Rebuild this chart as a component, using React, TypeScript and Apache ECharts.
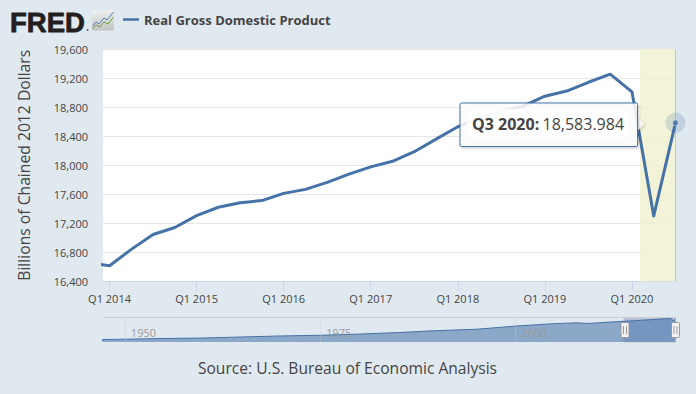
import React, { useEffect, useRef } from "react";
import * as echarts from "echarts";

const seriesName = "Real Gross Domestic Product";
const yAxisTitle = "Billions of Chained 2012 Dollars";
const sourceText = "Source: U.S. Bureau of Economic Analysis";

// quarter index: 0 = Q1 2014
const quarters = [-1, 0, 1, 2, 3, 4, 5, 6, 7, 8, 9, 10, 11, 12, 13, 14, 15, 16, 17, 18, 19, 20, 21, 22, 23, 24, 25, 26];
const gdp = [16663, 16617, 16842, 17047, 17143, 17306, 17422, 17485, 17514, 17613, 17668, 17765, 17877, 17978, 18054, 18186, 18360, 18530, 18654, 18752, 18813, 18950, 19021, 19142, 19254, 19011, 17303, 18583.984];
const xTickValues = [0, 4, 8, 12, 16, 20, 24];
const xTickLabels = ["Q1 2014", "Q1 2015", "Q1 2016", "Q1 2017", "Q1 2018", "Q1 2019", "Q1 2020"];
const recession = [24.37, 26];

const navYears = [1947, 1950, 1955, 1960, 1965, 1970, 1975, 1980, 1985, 1990, 1995, 2000, 2005, 2007.9, 2009.4, 2012, 2015, 2019.9, 2020.25, 2020.5];
const navValues = [2030, 2290, 2880, 3260, 4130, 4950, 5490, 6450, 7700, 9300, 10400, 13000, 15000, 15650, 15150, 16250, 17300, 19254, 17303, 18584];
const navTicks = [1950, 1975, 2000];
const navSelection = [2013.9, 2020.5];

const tooltipLabel = "Q3 2020:";
const tooltipValue = "18,583.984";

const FONT = "'Open Sans'";
const BLUE = "#4572a7";
const TEXT = "#444444";

export default function App() {
  const ref = useRef<HTMLDivElement>(null);
  useEffect(() => {
    document.body.style.margin = "0";
    const chart = echarts.init(ref.current!, null, { renderer: "svg" });
    const points = quarters.map((q, i) => [q, gdp[i]]);
    const last = points[points.length - 1];
    chart.setOption({
      animation: false,
      backgroundColor: "#e1e9f0",
      textStyle: { fontFamily: FONT },
      legend: {
        data: [{ name: seriesName, icon: "rect" }],
        left: 123,
        top: 13,
        padding: 0,
        itemWidth: 16,
        itemHeight: 2.5,
        itemGap: 5,
        selectedMode: false,
        textStyle: { fontFamily: FONT, fontSize: 13, fontWeight: "bold", color: TEXT },
      },
      grid: [
        { left: 103, width: 572.5, top: 49, height: 232.5, backgroundColor: "#ffffff", show: true, borderWidth: 0 },
        { left: 103, width: 572.5, top: 318, height: 24, show: false },
      ],
      xAxis: [
        {
          type: "value",
          gridIndex: 0,
          min: -0.3,
          max: 26,
          splitLine: { show: false },
          axisLine: { show: true, onZero: false, lineStyle: { color: "#ccd6eb" } },
          axisTick: { show: true, length: 9, customValues: xTickValues, lineStyle: { color: "#ccd6eb" } },
          axisLabel: {
            customValues: xTickValues,
            margin: 11,
            fontSize: 11,
            color: TEXT,
            fontFamily: FONT,
            formatter: (v: number) => xTickLabels[xTickValues.indexOf(v)] ?? "",
          },
        },
        {
          type: "value",
          gridIndex: 1,
          min: 1947.2,
          max: 2020.5,
          z: 6,
          splitLine: { show: false },
          axisLine: { show: false },
          axisTick: { show: true, inside: true, length: 24, customValues: navTicks, lineStyle: { color: "rgba(200,205,212,0.35)" } },
          axisLabel: {
            customValues: navTicks,
            inside: true,
            margin: 4,
            fontSize: 11,
            color: "#999999",
            align: "left",
            padding: [0, 0, 0, 6],
            fontFamily: FONT,
            formatter: (v: number) => String(v),
          },
        },
      ],
      yAxis: [
        {
          type: "value",
          gridIndex: 0,
          min: 16400,
          max: 19600,
          interval: 400,
          name: yAxisTitle,
          nameLocation: "middle",
          nameGap: 71,
          nameTextStyle: { fontSize: 15.7, color: TEXT, fontFamily: FONT },
          axisLine: { show: false },
          axisTick: { show: false },
          splitLine: { lineStyle: { color: "#e6e6e6", width: 1 } },
          axisLabel: {
            margin: 15,
            fontSize: 11,
            color: TEXT,
            fontFamily: FONT,
            formatter: (v: number) => v.toLocaleString("en-US"),
          },
        },
        {
          type: "value",
          gridIndex: 1,
          min: 0,
          max: 19600,
          axisLine: { show: false },
          axisTick: { show: false },
          axisLabel: { show: false },
          splitLine: { show: false },
        },
      ],
      series: [
        {
          name: seriesName,
          type: "line",
          xAxisIndex: 0,
          yAxisIndex: 0,
          data: points,
          symbol: "none",
          itemStyle: { color: BLUE },
          lineStyle: { color: BLUE, width: 3, join: "round" },
          z: 3,
          markArea: {
            silent: true,
            itemStyle: { color: "rgba(240,240,205,0.8)" },
            data: [[{ xAxis: recession[0] }, { xAxis: recession[1] }]],
          },
        },
        {
          type: "scatter",
          xAxisIndex: 0,
          yAxisIndex: 0,
          data: [last],
          symbolSize: 20,
          clip: false,
          silent: true,
          itemStyle: { color: "rgba(69,114,167,0.25)" },
          z: 4,
        },
        {
          type: "scatter",
          xAxisIndex: 0,
          yAxisIndex: 0,
          data: [last],
          symbolSize: 6,
          clip: false,
          silent: true,
          itemStyle: { color: BLUE, borderColor: "#ffffff", borderWidth: 0.5 },
          z: 5,
        },
        {
          type: "line",
          xAxisIndex: 1,
          yAxisIndex: 1,
          data: navYears.map((y, i) => [y, navValues[i]]),
          symbol: "none",
          lineStyle: { color: BLUE, width: 1 },
          areaStyle: { color: "#4572a7", opacity: 0.55 },
          z: 3,
          markArea: {
            silent: true,
            itemStyle: { color: "rgba(102,133,194,0.4)", borderColor: "#c4c9cf", borderWidth: 1 },
            data: [[{ xAxis: navSelection[0] }, { xAxis: navSelection[1] }]],
          },
        },
      ],
      graphic: [
        // FRED logo
        {
          type: "text",
          x: 10,
          y: 8,
          z: 50,
          style: { text: "FRED", font: "bold 27.5px 'Liberation Sans'", fill: "#231f20", stroke: "#231f20", lineWidth: 0.8 },
        },
        { type: "circle", z: 50, shape: { cx: 87.5, cy: 30, r: 0.9 }, style: { fill: "#555" } },
        {
          type: "rect",
          z: 50,
          shape: { x: 92, y: 10.5, width: 22, height: 20, r: 1 },
          style: {
            fill: new echarts.graphic.LinearGradient(0, 0, 0, 1, [
              { offset: 0, color: "#eef0f0" },
              { offset: 1, color: "#c2c4c4" },
            ]),
          },
        },
        {
          type: "polyline",
          z: 51,
          shape: { points: [[92.5, 26], [96, 22], [99, 24], [104, 18], [107, 20], [113.5, 12]] },
          style: { stroke: "#4b7fb5", lineWidth: 1, fill: "none" },
        },
        {
          type: "polyline",
          z: 51,
          shape: { points: [[92.5, 28.5], [96, 25], [100, 27], [104, 22], [108, 24], [113.5, 17]] },
          style: { stroke: "#6f9a3c", lineWidth: 1, fill: "none" },
        },
        // source
        {
          type: "text",
          x: 347.5,
          y: 368,
          z: 50,
          style: { text: sourceText, font: `15.6px ${FONT}`, fill: TEXT, align: "center", verticalAlign: "middle" },
        },
        // plot right edge + navigator top line
        { type: "line", z: 2, shape: { x1: 675.5, y1: 49, x2: 675.5, y2: 282 }, style: { stroke: "#c8c8c8", lineWidth: 1 } },
        { type: "line", z: 2, shape: { x1: 103, y1: 317.5, x2: 675.5, y2: 317.5 }, style: { stroke: "#cccccc", lineWidth: 1 } },
        // navigator handles
        ...[625, 675.5].flatMap((x) => [
          { type: "rect", z: 60, shape: { x: x - 4, y: 322.5, width: 8, height: 15, r: 1 }, style: { fill: "#f2f2f2", stroke: "#999999", lineWidth: 1 } },
          { type: "line", z: 61, shape: { x1: x - 1.5, y1: 326, x2: x - 1.5, y2: 334 }, style: { stroke: "#999999", lineWidth: 1 } },
          { type: "line", z: 61, shape: { x1: x + 1.5, y1: 326, x2: x + 1.5, y2: 334 }, style: { stroke: "#999999", lineWidth: 1 } },
        ]),
        // tooltip
        {
          type: "polygon",
          z: 70,
          shape: { points: [[637.5, 117], [644, 124], [637.5, 131]] },
          style: { fill: "rgba(255,255,255,0.9)", shadowColor: "rgba(0,0,0,0.2)", shadowBlur: 2, shadowOffsetX: 1, shadowOffsetY: 1 },
        },
        {
          type: "rect",
          z: 71,
          shape: { x: 460, y: 103, width: 177.5, height: 43.5, r: 1.5 },
          style: {
            fill: "rgba(255,255,255,0.85)",
            stroke: BLUE,
            lineWidth: 1,
            shadowColor: "rgba(0,0,0,0.25)",
            shadowBlur: 3,
            shadowOffsetX: 1,
            shadowOffsetY: 1,
          },
        },
        {
          type: "rect",
          z: 72,
          shape: { x: 467, y: 109, width: 161, height: 29 },
          style: { fill: "rgba(255,255,255,0.75)" },
        },
        {
          type: "text",
          x: 472,
          y: 124,
          z: 73,
          style: {
            text: `{b|${tooltipLabel}} {v|${tooltipValue}}`,
            verticalAlign: "middle",
            rich: {
              b: { font: `bold 16px ${FONT}`, fill: TEXT },
              v: { font: `16px ${FONT}`, fill: TEXT },
            },
          },
        },
      ],
    });
    return () => chart.dispose();
  }, []);
  return <div ref={ref} style={{ position: "absolute", left: 0, top: 0, width: 696, height: 394 }} />;
}
